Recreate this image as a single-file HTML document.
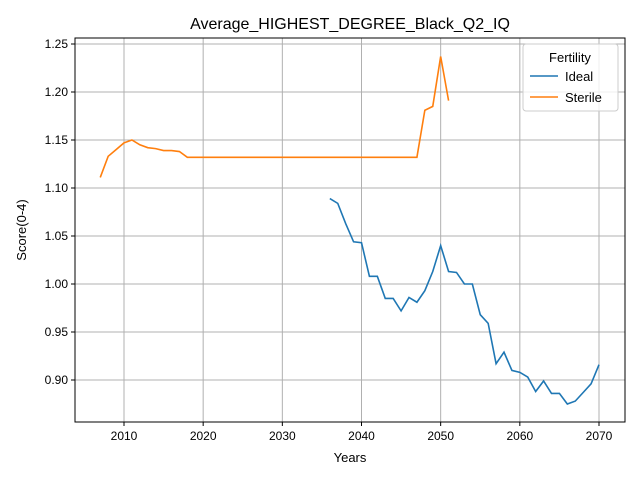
<!DOCTYPE html>
<html><head><meta charset="utf-8"><style>body{margin:0;background:#fff}svg{font-family:"Liberation Sans","DejaVu Sans",sans-serif}</style></head>
<body>
<svg id="c" width="640" height="480" xmlns="http://www.w3.org/2000/svg"></svg>
<script>
const idealYears=[2036,2037,2038,2039,2040,2041,2042,2043,2044,2045,2046,2047,2048,2049,2050,2051,2052,2053,2054,2055,2056,2057,2058,2059,2060,2061,2062,2063,2064,2065,2066,2067,2068,2069,2070];
const idealValues=[1.089,1.084,1.063,1.044,1.043,1.008,1.008,0.985,0.985,0.972,0.986,0.981,0.993,1.013,1.040,1.013,1.012,1.000,1.000,0.968,0.959,0.917,0.929,0.910,0.908,0.903,0.888,0.899,0.886,0.886,0.875,0.878,0.887,0.896,0.916];
const sterileYears=[2007,2008,2009,2010,2011,2012,2013,2014,2015,2016,2017,2018,2019,2020,2021,2022,2023,2024,2025,2026,2027,2028,2029,2030,2031,2032,2033,2034,2035,2036,2037,2038,2039,2040,2041,2042,2043,2044,2045,2046,2047,2048,2049,2050,2051];
const sterileValues=[1.111,1.133,1.140,1.147,1.150,1.145,1.142,1.141,1.139,1.139,1.138,1.132,1.132,1.132,1.132,1.132,1.132,1.132,1.132,1.132,1.132,1.132,1.132,1.132,1.132,1.132,1.132,1.132,1.132,1.132,1.132,1.132,1.132,1.132,1.132,1.132,1.132,1.132,1.132,1.132,1.132,1.181,1.185,1.237,1.191];
const xTicks=[2010,2020,2030,2040,2050,2060,2070];
const yTicks=[0.90,0.95,1.00,1.05,1.10,1.15,1.20,1.25];
const L=75,R=625,T=38,B=422;
const x=v=>124+(v-2010)*(599-124)/60;
const y=v=>380-(v-0.90)*(380-44)/0.35;
const s=document.getElementById('c');const NS='http://www.w3.org/2000/svg';
function el(t,a,p){const e=document.createElementNS(NS,t);for(const k in a)e.setAttribute(k,a[k]);(p||s).appendChild(e);return e;}
xTicks.forEach(t=>{const g=el('line',{x1:x(t),x2:x(t),y1:T,y2:B,stroke:'#b0b0b0','stroke-width':1});

el('line',{x1:x(t),x2:x(t),y1:B,y2:B+4,stroke:'#000'});
const tx=el('text',{x:x(t),y:B+18,'text-anchor':'middle','font-size':12});tx.textContent=t;
});
yTicks.forEach(t=>{const g=el('line',{x1:L,x2:R,y1:y(t),y2:y(t),stroke:'#b0b0b0','stroke-width':1});

el('line',{x1:L-4,x2:L,y1:y(t),y2:y(t),stroke:'#000'});
const tx=el('text',{x:L-7,y:y(t)+4,'text-anchor':'end','font-size':12});tx.textContent=t.toFixed(2);
});
function line(xs,vs,c,n){const p=el('polyline',{points:xs.map((v,i)=>x(v)+','+y(vs[i])).join(' '),fill:'none',stroke:c,'stroke-width':1.6});
}
line(idealYears,idealValues,'#1f77b4','ideal-line');
line(sterileYears,sterileValues,'#ff7f0e','sterile-line');
const fr=el('rect',{x:L,y:T,width:R-L,height:B-T,fill:'none',stroke:'#000','stroke-width':1});

</script>
<svg width="640" height="480" style="position:absolute;left:0;top:0" xmlns="http://www.w3.org/2000/svg">
<text x="350" y="29" text-anchor="middle" font-size="16" font-family="Liberation Sans,sans-serif">Average_HIGHEST_DEGREE_Black_Q2_IQ</text>
<text x="350" y="462" text-anchor="middle" font-size="13" font-family="Liberation Sans,sans-serif">Years</text>
<text transform="translate(26,230) rotate(-90)" text-anchor="middle" font-size="13" font-family="Liberation Sans,sans-serif">Score(0-4)</text>
<g font-family="Liberation Sans,sans-serif">
<rect x="523" y="44" width="95" height="67" rx="3" fill="#fff" fill-opacity="0.8" stroke="#ccc"/>
<text x="570" y="62" text-anchor="middle" font-size="13">Fertility</text>
<line x1="530" x2="558" y1="76" y2="76" stroke="#1f77b4" stroke-width="1.6"/>
<text x="565" y="81" font-size="13">Ideal</text>
<line x1="530" x2="558" y1="97" y2="97" stroke="#ff7f0e" stroke-width="1.6"/>
<text x="565" y="102" font-size="13">Sterile</text>
</g>
</svg>
</body></html>
